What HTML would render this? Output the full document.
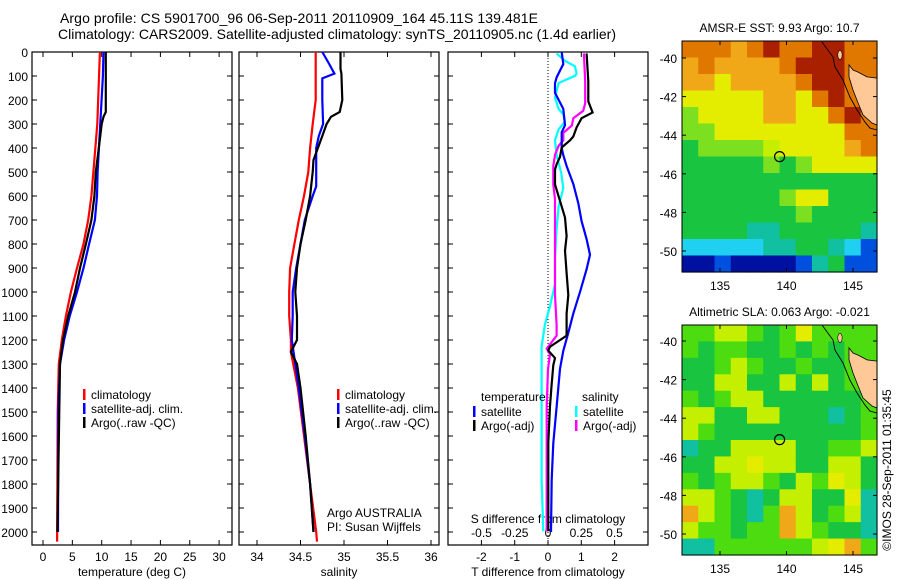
<!DOCTYPE html>
<html><head><meta charset="utf-8">
<style>
html,body{margin:0;padding:0;background:#fff;}
svg{display:block;font-family:"Liberation Sans",sans-serif;}
</style></head>
<body>
<svg id="fig" width="900" height="580" viewBox="0 0 900 580">
<text x="60" y="23" font-size="14" textLength="478">Argo profile: CS 5901700_96 06-Sep-2011 20110909_164 45.11S 139.481E</text>
<text x="58" y="39" font-size="14" textLength="558">Climatology: CARS2009. Satellite-adjusted climatology: synTS_20110905.nc (1.4d earlier)</text>
<g id="g1"></g>
<g id="g2"></g>
<g id="g3"></g>
<g id="m1"></g>
<g id="m2"></g>
<text transform="translate(891,470) rotate(-90)" font-size="12" text-anchor="middle">©IMOS 28-Sep-2011 01:35:45</text>
</svg>
<script>
// ---- data ----
const depthTicks=[0,100,200,300,400,500,600,700,800,900,1000,1100,1200,1300,1400,1500,1600,1700,1800,1900,2000];
const tempTicks=[0,5,10,15,20,25,30];
const salTicks=[34,34.5,35,35.5,36];
const salTickLabels=["34","34.5","35","35.5","36"];
const tdTicks=[-2,-1,0,1,2];
const sdTicks=[-0.5,-0.25,0,0.25,0.5];
const sdTickLabels=["-0.5","-0.25","0","0.25","0.5"];
const tempClim=[[0,9.7],[300,9.25],[600,8.25],[700,7.7],[800,6.9],[900,5.8],[1000,4.75],[1100,3.9],[1200,3.2],[1300,2.7],[1500,2.5],[2040,2.4]];
const tempSat=[[0,10.3],[100,10.2],[500,9.3],[600,9.2],[700,8.85],[800,7.85],[900,6.9],[1000,5.8],[1100,4.55],[1200,3.6],[1300,2.9],[1500,2.6],[2000,2.55]];
const tempArgo=[[0,10.7],[250,10.7],[270,10.3],[300,10.0],[400,9.5],[500,9.0],[600,8.75],[700,8.25],[800,7.3],[900,6.3],[1000,5.45],[1100,4.3],[1200,3.4],[1300,2.9],[2000,2.45]];
const salClim=[[0,34.675],[200,34.675],[300,34.64],[400,34.61],[500,34.59],[600,34.54],[700,34.48],[800,34.43],[900,34.38],[1000,34.37],[1100,34.37],[1200,34.39],[1250,34.39],[1400,34.47],[1600,34.54],[1800,34.61],[2000,34.68],[2040,34.69]];
const salSat=[[0,34.75],[50,34.83],[90,34.89],[110,34.75],[200,34.75],[300,34.76],[350,34.71],[400,34.68],[560,34.68],[600,34.64],[700,34.55],[800,34.50],[900,34.45],[1000,34.41],[1100,34.41],[1200,34.40],[1300,34.44],[1400,34.48],[1600,34.55],[1800,34.61],[2000,34.65]];
const salArgo=[[0,34.96],[70,34.96],[90,34.97],[200,34.98],[250,34.95],[270,34.85],[300,34.80],[350,34.75],[400,34.70],[450,34.65],[500,34.64],[600,34.61],[700,34.56],[800,34.50],[900,34.46],[1000,34.44],[1100,34.46],[1200,34.46],[1250,34.39],[1300,34.46],[1400,34.50],[1600,34.56],[1800,34.61],[2000,34.65]];
const tdSat=[[0,0.41],[50,0.46],[105,0.26],[130,0.21],[170,0.21],[237,0.46],[305,0.51],[335,0.41],[400,0.41],[430,0.46],[475,0.56],[550,0.76],[630,0.91],[705,1.01],[780,1.16],[845,1.26],[905,1.16],[1000,0.96],[1090,0.76],[1170,0.61],[1245,0.46],[1320,0.36],[1475,0.26],[1630,0.16],[1780,0.11],[2000,0.09]];
const tdArgo=[[6,1.16],[122,1.21],[206,1.21],[252,1.34],[276,1.01],[314,0.86],[352,0.76],[368,0.66],[398,0.41],[437,0.36],[467,0.26],[490,0.21],[552,0.21],[644,0.41],[690,0.51],[767,0.56],[828,0.51],[921,0.56],[1013,0.61],[1090,0.56],[1182,0.56],[1228,0.06],[1244,0.01],[1275,0.21],[1305,0.16],[1382,0.11],[1475,0.06],[1628,0.01],[1782,0.01],[1997,0.01]];
const sdSat=[[6,0.065],[37,0.128],[60,0.203],[91,0.215],[99,0.203],[129,0.08],[191,0.053],[237,0.08],[260,0.115],[291,0.128],[322,0.08],[368,0.053],[429,0.065],[506,0.10],[567,0.115],[644,0.08],[736,0.065],[859,0.053],[967,0.053],[1059,0.015],[1136,-0.023],[1228,-0.048],[1321,-0.048],[1628,-0.048],[1782,-0.048],[1997,-0.035]];
const sdArgo=[[6,0.27],[122,0.28],[214,0.28],[245,0.265],[276,0.19],[306,0.18],[337,0.115],[368,0.115],[391,0.08],[429,0.053],[475,0.04],[552,0.04],[613,0.053],[705,0.053],[859,0.053],[1013,0.053],[1136,0.065],[1182,0.065],[1236,-0.01],[1259,0.015],[1321,0.0],[1475,-0.01],[1628,-0.01],[1782,-0.01],[1997,-0.01]];
const latTicks=[-40,-42,-44,-46,-48,-50];
const lonTicks=[135,140,145];
const argoLon=139.48, argoLat=-45.11;
const sstGrid=["OOOoOROORROO","oOooooORRROO","ooYooooORROO","YYYYYooYOROO","LYYYYooYYORO","LLYYYYYYYYOO","GLLLLyYYYYoO","GGGGGLGLYYYY","GGGGGGGGGGGG","GGGGGGLYYGGG","GGGGGGGLGGGG","GGGGTTGGGGGT","CCCCCTTGGTCB","NNBNNNNBTGBB"];
const slaGrid=["ggyygGgYgggg","gGggGGgGgGgg","GGgygGGgGGgg","GGyyGGyGyGgg","gGgyyGGGGGGg","yyGGyyGGGTGg","ygGGGGGGGGGg","TGGyyyyGGggy","GGyyYyyGGyyG","gGgyygGygYyG","yygGTGyyGGYT","oygGTgoyGgyT","yggGggoygGGT","TTggggggyYog"];
const colors={R:"#a82000",O:"#e07800",o:"#f0a818",Y:"#e4ec00",y:"#c4f000",L:"#7ce020",G:"#18c440",g:"#4cdc10",T:"#10c0a0",C:"#20d0f0",B:"#0050e0",N:"#0010a0"};
const land=[[144.70,-40.36],[145.0,-40.62],[145.38,-40.73],[146.05,-40.98],[146.8,-41.04],[146.8,-43.47],[146.43,-43.37],[145.75,-42.95],[145.38,-42.33],[145.0,-41.66],[144.70,-40.98]];
const coast=[[142.67,-39.17],[143.5,-39.95],[143.65,-40.47],[144.25,-41.14],[144.77,-42.02],[145.3,-42.69],[145.9,-43.32],[146.28,-43.63],[146.8,-43.73]];
const island=[144.02,-39.84];

const NS="http://www.w3.org/2000/svg";
function mk(tag,attrs,parent,txt){const e=document.createElementNS(NS,tag);for(const k in attrs)e.setAttribute(k,attrs[k]);if(txt!==undefined)e.textContent=txt;parent.appendChild(e);return e;}
const y0=52, yk=0.24, pTop=52, pBot=545;
const yD=d=>y0+d*yk;

function panel(g,L,R,xf,ticks,labels,label){
  const fr=mk('rect',{x:L,y:pTop,width:R-L,height:pBot-pTop,fill:'none',stroke:'#000','stroke-width':1.2},g);
  
  
  depthTicks.forEach(d=>{const y=yD(d);
    mk('line',{x1:L,x2:L+5,y1:y,y2:y,stroke:'#000'},g);
    mk('line',{x1:R-5,x2:R,y1:y,y2:y,stroke:'#000'},g);});
  ticks.forEach((t,i)=>{const x=xf(t);
    mk('line',{x1:x,x2:x,y1:pBot,y2:pBot-5,stroke:'#000'},g);
    mk('line',{x1:x,x2:x,y1:pTop,y2:pTop+5,stroke:'#000'},g);
    const tl=mk('text',{x:x,y:561,'font-size':12,'text-anchor':'middle'},g,labels?labels[i]:String(t));
    
    });
  const al=mk('text',{x:(L+R)/2,y:576,'font-size':12,'text-anchor':'middle'},g,label);
  
  
}
function drawLine(g,data,xf,color,name){
  const p=data.map((d,i)=>(i?'L':'M')+xf(d[1]).toFixed(1)+','+yD(d[0]).toFixed(1)).join('');
  const e=mk('path',{d:p,fill:'none',stroke:color,'stroke-width':2.2},g);
  
  
}
function legend(g,x,y,color,txt,name){
  mk('rect',{x:x,y:y-9,width:2.5,height:11,fill:color},g);
  const t=mk('text',{x:x+8,y:y+1,'font-size':12},g,txt);
  
  
}
// panel 1
const g1=document.getElementById('g1');
const xT=t=>43+t*5.87;
panel(g1,32,232,xT,tempTicks,null,'temperature (deg C)');
depthTicks.forEach(d=>{const t=mk('text',{x:28,y:yD(d)+5,'font-size':12,'text-anchor':'end'},g1,String(d));
  
  });
drawLine(g1,tempClim,xT,'#ff0000','temp-climatology-line');
drawLine(g1,tempSat,xT,'#0000ff','temp-satellite-line');
drawLine(g1,tempArgo,xT,'#000000','temp-argo-line');
legend(g1,83,398,'#ff0000','climatology','legend-climatology');
legend(g1,83,412,'#0000ff','satellite-adj. clim.','legend-satellite');
legend(g1,83,426,'#000000','Argo(..raw -QC)','legend-argo');
// panel 2
const g2=document.getElementById('g2');
const xS=s=>257+(s-34)*87;
panel(g2,239,439,xS,salTicks,salTickLabels,'salinity');
drawLine(g2,salClim,xS,'#ff0000','sal-climatology-line');
drawLine(g2,salSat,xS,'#0000ff','sal-satellite-line');
drawLine(g2,salArgo,xS,'#000000','sal-argo-line');
legend(g2,337,398,'#ff0000','climatology','legend-climatology');
legend(g2,337,412,'#0000ff','satellite-adj. clim.','legend-satellite');
legend(g2,337,426,'#000000','Argo(..raw -QC)','legend-argo');
mk('text',{x:327,y:517,'font-size':12},g2,'Argo AUSTRALIA');
mk('text',{x:327,y:531,'font-size':12},g2,'PI: Susan Wijffels');
// panel 3
const g3=document.getElementById('g3');
const xTd=t=>548+t*33.3, xSd=s=>548+s*133;
panel(g3,448,648,xTd,tdTicks,null,'T difference from climatology');
mk('line',{x1:548,x2:548,y1:pTop,y2:pBot,stroke:'#000','stroke-dasharray':'1,2'},g3);
sdTicks.forEach((s,i)=>{const t=mk('text',{x:xSd(s),y:537,'font-size':12,'text-anchor':'middle'},g3,sdTickLabels[i]);
  
  });
mk('text',{x:548,y:523,'font-size':12,'text-anchor':'middle'},g3,'S difference from climatology');
drawLine(g3,sdSat,xSd,'#00ffff','sdiff-satellite-line');
drawLine(g3,sdArgo,xSd,'#ff00ff','sdiff-argo-line');
drawLine(g3,tdSat,xTd,'#0000ff','tdiff-satellite-line');
drawLine(g3,tdArgo,xTd,'#000000','tdiff-argo-line');
mk('text',{x:481,y:401,'font-size':12},g3,'temperature');
mk('text',{x:582,y:401,'font-size':12},g3,'salinity');
legend(g3,473,415,'#0000ff','satellite','legend-t-satellite');
legend(g3,473,429,'#000000','Argo(-adj)','legend-t-argo');
legend(g3,575,415,'#00ffff','satellite','legend-s-satellite');
legend(g3,575,429,'#ff00ff','Argo(-adj)','legend-s-argo');
// maps
function drawMap(id,T,B,lat40,lat50,title,grid){
  const g=document.getElementById(id);
  const L=682,R=877;
  const xL=lo=>720+(lo-135)*13.3;
  const yL=la=>lat40+(-40-la)*(lat50-lat40)/10;
  const rows=grid.length, cols=grid[0].length;
  const cw=(R-L)/cols, ch=(B-T)/rows;
  grid.forEach((row,r)=>{for(let c=0;c<cols;c++){
    mk('rect',{x:(L+c*cw).toFixed(2),y:(T+r*ch).toFixed(2),width:(cw+0.6).toFixed(2),height:(ch+0.6).toFixed(2),fill:colors[row[c]]},g);}});
  const lp=mk('path',{d:land.map((p,i)=>(i?'L':'M')+xL(p[0]).toFixed(1)+','+yL(p[1]).toFixed(1)).join('')+'Z',fill:'#ffc896',stroke:'#000','stroke-width':0.8},g);
  
  
  mk('ellipse',{cx:xL(island[0]),cy:yL(island[1]),rx:2.2,ry:4.5,fill:'#ffc896',stroke:'#000','stroke-width':0.6},g);
  mk('path',{d:coast.map((p,i)=>(i?'L':'M')+xL(p[0]).toFixed(1)+','+yL(p[1]).toFixed(1)).join(''),fill:'none',stroke:'#000','stroke-width':0.9},g);
  mk('rect',{x:L,y:T,width:R-L,height:B-T,fill:'none',stroke:'#000'},g);
  latTicks.forEach(la=>{const y=yL(la);
    mk('line',{x1:L,x2:L+4,y1:y,y2:y,stroke:'#000'},g);
    mk('line',{x1:R-4,x2:R,y1:y,y2:y,stroke:'#000'},g);
    const t=mk('text',{x:677,y:y+5,'font-size':12,'text-anchor':'end'},g,String(la));
    
    });
  lonTicks.forEach(lo=>{const x=xL(lo);
    mk('line',{x1:x,x2:x,y1:T,y2:T+4,stroke:'#000'},g);
    mk('line',{x1:x,x2:x,y1:B,y2:B-4,stroke:'#000'},g);
    const t=mk('text',{x:x,y:B+18,'font-size':12,'text-anchor':'middle'},g,String(lo));
    
    });
  const c=mk('circle',{cx:xL(argoLon),cy:yL(argoLat),r:5,fill:'none',stroke:'#000','stroke-width':1.2},g);
  
  
  const tt=mk('text',{x:(L+R)/2,y:T-9,'font-size':12,'text-anchor':'middle'},g,title);
  
  
}
drawMap('m1',41,272,58,251,'AMSR-E SST: 9.93 Argo: 10.7',sstGrid);
drawMap('m2',325,555,341,534,'Altimetric SLA: 0.063 Argo: -0.021',slaGrid);
</script>
</body></html>
